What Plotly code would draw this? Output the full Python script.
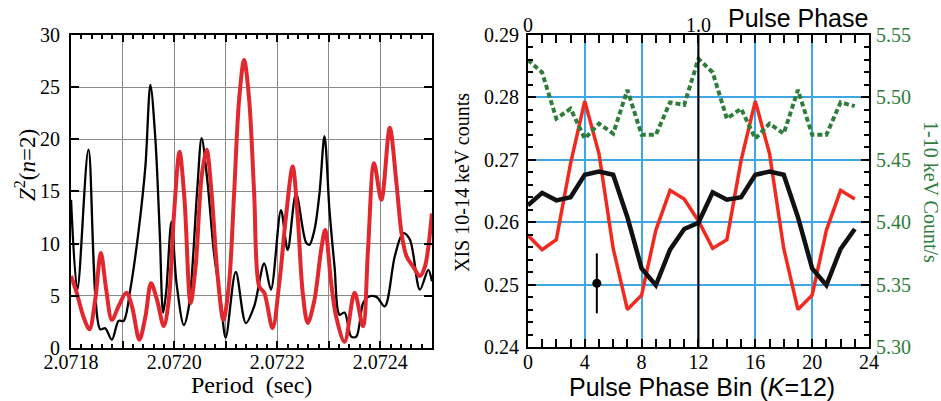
import plotly.graph_objects as go

# ---------------- Left panel: Z^2(n=2) periodogram ----------------
black_period = [2.0718000, 2.0718123, 2.0718338, 2.0718565, 2.0718662, 2.0718792, 2.0718922,
                2.0719020, 2.0719149, 2.0719312, 2.0719442, 2.0719539, 2.0719636, 2.0719721,
                2.0719786, 2.0719844, 2.0719948, 2.0720046, 2.0720188, 2.0720286, 2.0720448,
                2.0720533, 2.0720643, 2.0720773, 2.0720903, 2.0721000, 2.0721195, 2.0721390,
                2.0721552, 2.0721747, 2.0721877, 2.0722072, 2.0722202, 2.0722364, 2.0722559,
                2.0722624, 2.0722721, 2.0722819, 2.0722916, 2.0723013, 2.0723111, 2.0723208,
                2.0723306, 2.0723435, 2.0723533, 2.0723663, 2.0723760, 2.0723923, 2.0724085,
                2.0724280, 2.0724442, 2.0724572, 2.0724767, 2.0724929, 2.0725000]
black_z2 = [14.2, 5.6, 19.0, 1.8, 1.9, 0.8, 2.6,
            2.6, 5.6, 11.3, 17.4, 25.2, 20.0, 11.0,
            3.4, 5.3, 12.1, 6.2, 2.2, 4.0, 15.2,
            20.1, 16.1, 9.1, 4.6, 1.0, 7.3, 2.4,
            4.0, 8.1, 5.6, 13.2, 9.4, 14.8, 10.1,
            9.9, 11.3, 14.8, 20.3, 13.2, 7.8, 3.2,
            3.4, 1.1, 1.1, 4.3, 4.9, 4.9, 4.0,
            8.8, 11.0, 10.4, 5.6, 7.5, 6.4]

red_period = [2.0718000, 2.0718110, 2.0718240, 2.0718357, 2.0718468, 2.0718578, 2.0718682,
              2.0718792, 2.0718922, 2.0719072, 2.0719182, 2.0719325, 2.0719442, 2.0719552,
              2.0719669, 2.0719799, 2.0719896, 2.0719994, 2.0720104, 2.0720201, 2.0720318,
              2.0720416, 2.0720533, 2.0720630, 2.0720727, 2.0720838, 2.0720955, 2.0721065,
              2.0721163, 2.0721260, 2.0721357, 2.0721455, 2.0721552, 2.0721650, 2.0721747,
              2.0721909, 2.0722039, 2.0722169, 2.0722299, 2.0722396, 2.0722494, 2.0722591,
              2.0722721, 2.0722851, 2.0722929, 2.0723046, 2.0723143, 2.0723306, 2.0723500,
              2.0723663, 2.0723760, 2.0723877, 2.0724020, 2.0724182, 2.0724312, 2.0724410,
              2.0724507, 2.0724637, 2.0724767, 2.0724864, 2.0725000]
red_z2 = [6.9, 5.3, 3.0, 1.8, 4.6, 9.1, 5.6,
          2.7, 4.0, 5.3, 4.0, 0.8, 3.0, 6.2,
          4.6, 2.1, 4.6, 12.6, 18.8, 14.2, 4.3,
          7.8, 16.4, 19.0, 14.8, 7.2, 2.7, 6.2,
          14.8, 23.8, 27.6, 23.8, 14.8, 5.9, 5.3,
          1.9, 6.2, 12.6, 17.4, 12.6, 5.3, 2.4,
          4.6, 9.4, 11.3, 6.2, 3.0, 0.6, 5.3,
          2.1, 9.4, 17.7, 14.2, 21.1, 15.8, 11.0,
          8.8, 7.8, 6.9, 7.8, 12.9]

period_tickvals = [2.0718, 2.0719, 2.0720, 2.0721, 2.0722, 2.0723, 2.0724, 2.0725]
period_ticktext = ["2.0718", " ", "2.0720", " ", "2.0722", " ", "2.0724", " "]

# ---------------- Right panel: pulse profiles ----------------
phase_bin = list(range(24))
xis_hard = [0.2627, 0.2647, 0.2635, 0.2640, 0.2676, 0.2681, 0.2676, 0.2608, 0.2526, 0.2499,
            0.2556, 0.2589, 0.2599, 0.2648, 0.2636, 0.2640, 0.2676, 0.2681, 0.2676, 0.2608,
            0.2526, 0.2499, 0.2557, 0.2589]
xis_hard_alt = [0.2579, 0.2556, 0.2572, 0.2694, 0.2794, 0.2710, 0.2558, 0.2460, 0.2483, 0.2587,
                0.2651, 0.2637, 0.2602, 0.2558, 0.2572, 0.2699, 0.2794, 0.2710, 0.2558, 0.2460,
                0.2483, 0.2587, 0.2651, 0.2637]
soft_rate = [5.530, 5.520, 5.483, 5.491, 5.467, 5.479, 5.471, 5.506, 5.470, 5.470,
             5.496, 5.494, 5.531, 5.520, 5.483, 5.491, 5.467, 5.479, 5.471, 5.506,
             5.470, 5.470, 5.496, 5.493]
err_x = [4.85]
err_y = [0.2502]
err_size = [0.0048]

# top "Pulse Phase" axis labels (bin position -> phase label)
phase_label_bins = [0, 12]
phase_label_text = ["0", "1.0"]

SERIF = "Liberation Serif"
SANS = "Liberation Sans"
GREEN = "#2f7d3a"
BLUE = "#3ea6e2"
TICK_SIZE = 20

fig = go.Figure()

fig.add_trace(go.Scatter(x=black_period, y=black_z2, mode="lines", xaxis="x", yaxis="y",
                         line=dict(color="black", width=2.3, shape="spline", smoothing=0.9),
                         showlegend=False))
fig.add_trace(go.Scatter(x=red_period, y=red_z2, mode="lines", xaxis="x", yaxis="y",
                         line=dict(color="#e2282f", width=4, shape="spline", smoothing=0.9),
                         showlegend=False))

fig.add_trace(go.Scatter(x=phase_bin, y=xis_hard_alt, mode="lines", xaxis="x2", yaxis="y2",
                         line=dict(color="#f2291f", width=3.5), showlegend=False))
fig.add_trace(go.Scatter(x=phase_bin, y=xis_hard, mode="lines", xaxis="x2", yaxis="y2",
                         line=dict(color="#111111", width=4.5), showlegend=False))
fig.add_trace(go.Scatter(x=phase_bin, y=soft_rate, mode="lines", xaxis="x2", yaxis="y3",
                         line=dict(color=GREEN, width=4, dash="5px,3px"), showlegend=False))
fig.add_trace(go.Scatter(x=err_x, y=err_y, mode="markers", xaxis="x2", yaxis="y2",
                         marker=dict(color="black", size=9),
                         error_y=dict(type="data", array=err_size, color="black",
                                      thickness=2, width=0),
                         showlegend=False))

# vertical phase = 1.0 line
fig.add_shape(type="line", xref="x2", yref="y2 domain", x0=12, x1=12, y0=0, y1=1,
              line=dict(color="black", width=2))


def tf(color="black"):
    return dict(family=SERIF, size=TICK_SIZE, color=color)


annotations = [
    dict(text="Period  (sec)", x=252 / 941, y=(401 - 385) / 401, xref="paper", yref="paper",
         showarrow=False, xanchor="center", yanchor="middle",
         font=dict(family=SERIF, size=24, color="black")),
    dict(text="Pulse Phase Bin (<i>K</i>=12)", x=702 / 941, y=(401 - 387) / 401,
         xref="paper", yref="paper", showarrow=False, xanchor="center", yanchor="middle",
         font=dict(family=SANS, size=25, color="black")),
    dict(text="Pulse Phase", x=870 / 941, y=(401 - 18) / 401, xref="paper", yref="paper",
         showarrow=False, xanchor="right", yanchor="middle",
         font=dict(family=SANS, size=25, color="black")),
    dict(text="<i>Z</i><sup>2</sup>(<i>n</i>=2)", x=25 / 941, y=(401 - 165) / 401,
         xref="paper", yref="paper", showarrow=False, textangle=-90,
         xanchor="center", yanchor="middle",
         font=dict(family=SERIF, size=23, color="black")),
    dict(text="XIS 10-14 keV counts", x=462 / 941, y=(401 - 183) / 401,
         xref="paper", yref="paper", showarrow=False, textangle=-90,
         xanchor="center", yanchor="middle",
         font=dict(family=SERIF, size=20, color="black")),
    dict(text="1-10 keV Count/s", x=931 / 941, y=(401 - 192) / 401,
         xref="paper", yref="paper", showarrow=False, textangle=90,
         xanchor="center", yanchor="middle",
         font=dict(family=SERIF, size=20, color=GREEN)),
]
for b, t in zip(phase_label_bins, phase_label_text):
    annotations.append(dict(text=t, x=b, y=(401 - 25) / 401, xref="x2", yref="paper",
                            showarrow=False, xanchor="center", yanchor="middle",
                            font=tf()))

fig.update_layout(
    width=941, height=401,
    margin=dict(l=0, r=0, t=0, b=0, autoexpand=False),
    font=dict(family=SERIF, size=TICK_SIZE, color="black"),
    paper_bgcolor="white", plot_bgcolor="white",
    xaxis=dict(domain=[0.0755, 0.459], anchor="y", range=[2.0718, 2.0725],
               tickmode="array", tickvals=period_tickvals, ticktext=period_ticktext,
               ticks="inside", ticklen=7, tickwidth=1.5, tickcolor="black",
               minor=dict(dtick=0.00002, tick0=2.0718, ticks="inside", ticklen=4,
                          tickwidth=1.5, tickcolor="black", showgrid=False),
               showgrid=True, gridcolor="#8a8a8a", gridwidth=1,
               showline=True, linecolor="black", linewidth=2, mirror="allticks",
               zeroline=False, tickfont=tf(), automargin=False, ticklabelstandoff=-5),
    yaxis=dict(domain=[0.132, 0.913], anchor="x", range=[0, 30], dtick=5,
               ticks="inside", ticklen=8, tickwidth=1.5, tickcolor="black",
               showgrid=True, gridcolor="#8a8a8a", gridwidth=1,
               showline=True, linecolor="black", linewidth=2, mirror="allticks",
               zeroline=False, tickfont=tf(), automargin=False, ticklabelstandoff=5),
    xaxis2=dict(domain=[0.561, 0.9235], anchor="y2", range=[0, 24], tick0=0, dtick=4,
                ticks="inside", ticklen=8, tickwidth=1.5, tickcolor="black",
                minor=dict(dtick=1, ticks="inside", ticklen=5, tickwidth=1.5,
                           tickcolor="black", showgrid=False),
                showgrid=True, gridcolor=BLUE, gridwidth=1.5,
                showline=True, linecolor="black", linewidth=2, mirror="allticks",
                zeroline=False, tickfont=tf(), automargin=False, ticklabelstandoff=-4),
    yaxis2=dict(domain=[0.1347, 0.9127], anchor="x2", range=[0.24, 0.29], dtick=0.01,
                tickformat=".2f", ticks="inside", ticklen=8, tickwidth=1.5, tickcolor="black",
                minor=dict(dtick=0.002, ticks="inside", ticklen=5, tickwidth=1.5,
                           tickcolor="black", showgrid=False),
                showgrid=True, gridcolor=BLUE, gridwidth=1.5,
                showline=True, linecolor="black", linewidth=2, mirror=True,
                zeroline=False, tickfont=tf(), automargin=False, ticklabelstandoff=3),
    yaxis3=dict(overlaying="y2", anchor="x2", side="right", range=[5.30, 5.55], dtick=0.05,
                tickformat=".2f", ticks="inside", ticklen=8, tickwidth=1.5, tickcolor="black",
                minor=dict(dtick=0.01, ticks="inside", ticklen=5, tickwidth=1.5,
                           tickcolor="black", showgrid=False),
                showgrid=False, showline=False, zeroline=False,
                tickfont=tf(GREEN), automargin=False, ticklabelstandoff=6),
    annotations=annotations,
)

fig.write_html("out.html")
